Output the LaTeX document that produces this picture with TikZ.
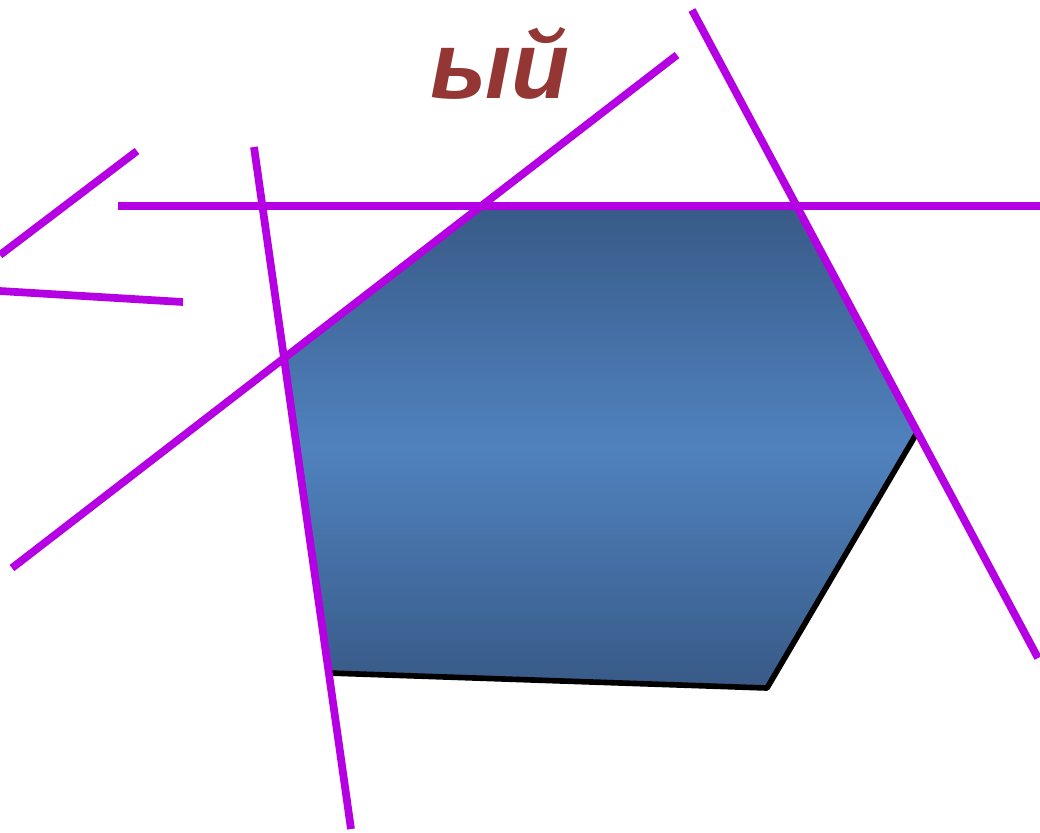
\documentclass[tikz,border=0pt]{standalone}
\usepackage{fontspec}
\newfontfamily\titlefont{Liberation Sans}
\definecolor{cutline}{RGB}{180,0,226}
\definecolor{titlered}{RGB}{148,54,52}
\definecolor{polydark}{RGB}{56,90,135}
\definecolor{polylight}{RGB}{80,130,190}
\tikzset{
  cut/.style={draw=cutline, line width=2.2pt},
  poly/.style={draw=black, line width=1.6pt, top color=polydark,
    bottom color=polydark, middle color=polylight}
}
\begin{document}
\begin{tikzpicture}[x=0.01cm, y=-0.01cm, line join=round]
  \useasboundingbox (0,0) rectangle (1040,832);
  % ends of the cutting lines
  \coordinate (h1) at (118,206);  \coordinate (h2) at (1040,206);
  \coordinate (d1) at (12,568);   \coordinate (d2) at (677,55);
  \coordinate (v1) at (254,147);  \coordinate (v2) at (351,829);
  \coordinate (r1) at (692,10);   \coordinate (r2) at (1038,658);
  % polygon corners
  \coordinate (p1) at (intersection of h1--h2 and d1--d2);
  \coordinate (p2) at (intersection of h1--h2 and r1--r2);
  \coordinate (p3) at (intersection of r1--r2 and 0,432--1040,432);
  \coordinate (p4) at (767,688);
  \coordinate (p5) at (intersection of v1--v2 and 0,673--1040,673);
  \coordinate (p6) at (intersection of v1--v2 and d1--d2);
  \path[poly] (p1) -- (p2) -- (p3) -- (p4) -- (p5) -- (p6) -- cycle;
  % cutting lines
  \draw[cut] (h1) -- (h2);
  \draw[cut] (d1) -- (d2);
  \draw[cut] (v1) -- (v2);
  \draw[cut] (r1) -- (r2);
  \draw[cut] (137,151) -- (0,255);
  \draw[cut] (0,291) -- (183,302);
  \node[text=titlered, font=\titlefont\bfseries\itshape\fontsize{27}{30}\selectfont,
    anchor=base] (title) at (500,98) {ый};
\end{tikzpicture}
\end{document}
